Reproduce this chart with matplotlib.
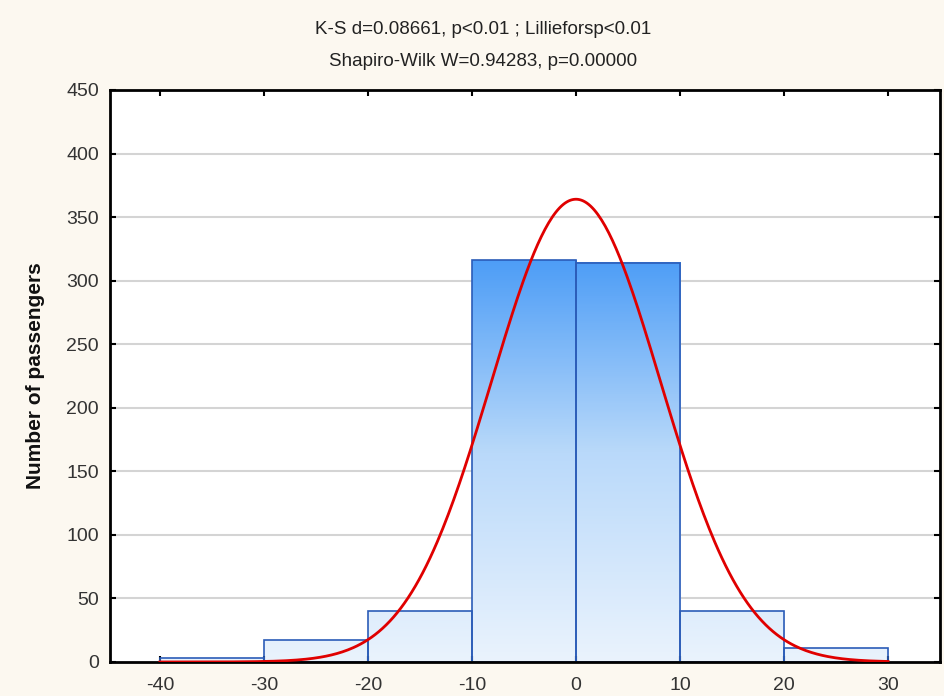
import numpy as np
import matplotlib
matplotlib.use("Agg")
import matplotlib.pyplot as plt
from matplotlib.colors import LinearSegmentedColormap

# histogram bins (left edges) and counts
bin_left = [-40, -30, -20, -10, 0, 10, 20]
bin_width = 10
counts = [3, 17, 40, 316, 314, 40, 11]

# fitted normal curve parameters
fit_mean = 0.0
fit_sd = 8.12
n_total = sum(counts)

title_lines = ["K-S d=0.08661, p<0.01 ; Lillieforsp<0.01",
               "Shapiro-Wilk W=0.94283, p=0.00000"]
xticks = [-40, -30, -20, -10, 0, 10, 20, 30]
yticks = list(range(0, 451, 50))

plt.rcParams['font.family'] = ['Liberation Sans', 'DejaVu Sans']
plt.rcParams['axes.unicode_minus'] = False

fig = plt.figure(figsize=(9.44, 6.96), dpi=100, facecolor="#fcf8f0")
ax = fig.add_axes([0.1165, 0.0489, 0.8793, 0.8218])
ax.set_facecolor("white")

# gridlines behind bars
for y in yticks[1:-1]:
    ax.axhline(y, color="#d4d4d4", lw=1.5, zorder=0)

# bars with vertical gradient (by absolute y)
cmap = LinearSegmentedColormap.from_list("bl", ["#eaf3fd", "#b9d9fa", "#4498f6"])
top = 330.0
for x0, h in zip(bin_left, counts):
    grad = np.linspace(0, h / top, 200).reshape(-1, 1)
    ax.imshow(grad, extent=(x0, x0 + bin_width, 0, h), origin="lower",
              cmap=cmap, vmin=0, vmax=1, aspect="auto", zorder=1)
    ax.bar(x0, h, width=bin_width, align="edge", facecolor="none",
           edgecolor="#2b5cb8", lw=1.2, zorder=2)

# normal curve
xs = np.linspace(-40, 30, 400)
ys = n_total * bin_width / (fit_sd * np.sqrt(2 * np.pi)) * np.exp(-0.5 * ((xs - fit_mean) / fit_sd) ** 2)
ax.plot(xs, ys, color="#e00000", lw=2, zorder=3)

ax.set_xlim(-44.8, 35)
ax.set_ylim(0, 450)
ax.set_xticks(xticks)
ax.set_yticks(yticks)
ax.tick_params(direction="in", length=4, width=1.5, top=True, right=True,
               labelsize=14, labelcolor="#333333")
ax.tick_params(axis="x", pad=11)
ax.tick_params(axis="y", pad=8)
for s in ax.spines.values():
    s.set_linewidth(2)

ax.set_ylabel("Number of passengers", fontsize=15, fontweight="bold", color="#111111")
ax.yaxis.set_label_coords(-0.078, 0.5)

fig.text(483 / 944, 1 - 30 / 696, title_lines[0], ha="center", va="center", fontsize=13.5, color="#222222")
fig.text(483 / 944, 1 - 62 / 696, title_lines[1], ha="center", va="center", fontsize=13.5, color="#222222")

fig.savefig("out.png", dpi=100, facecolor=fig.get_facecolor())
